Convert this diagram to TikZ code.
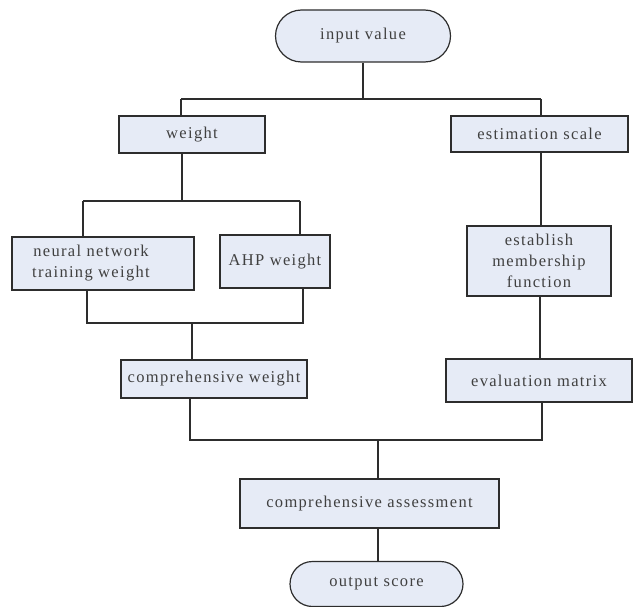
\documentclass[tikz,border=0pt]{standalone}
\usepackage{fontspec}
\setmainfont[LetterSpace=8]{Liberation Serif}
\usetikzlibrary{positioning,shapes,calc}
\definecolor{boxfill}{RGB}{230,235,246}
\definecolor{edge}{RGB}{45,45,45}

\begin{document}
\begin{tikzpicture}[x=1pt, y=-1pt, line width=1.2pt, draw=edge,
  every node/.style={draw=edge, fill=boxfill, align=center, inner sep=2pt,
    font=\fontsize{16.5}{21}\selectfont, text=black!75},
  box/.style={rectangle},
  pill/.style={rounded rectangle}]
\useasboundingbox (0,0) rectangle (640,607);
\node[pill, minimum width=179pt, minimum height=52pt] (in) at (363,36) {input value};
\node[box, minimum width=146pt, minimum height=37pt] (w) at (192,134.5) {weight};
\node[box, minimum width=177pt, minimum height=36pt] (es) at (539.5,134) {estimation scale};
\node[box, minimum width=182pt, minimum height=53pt] (nn) at (103,263.5) {\hspace*{-24pt}neural network\\\hspace*{-24pt}training weight};
\node[box, minimum width=110pt, minimum height=53pt] (ahp) at (275,261.5) {AHP weight};
\node[box, minimum width=144pt, minimum height=70pt] (em) at (539,261) {establish\\membership\\function};
\node[box, minimum width=186pt, minimum height=38pt] (cw) at (214,379) {comprehensive weight};
\node[box, minimum width=186pt, minimum height=43pt] (ev) at (539,380.5) {evaluation matrix};
\node[box, minimum width=259pt, minimum height=49pt] (ca) at (369.5,503.5) {comprehensive assessment};
\node[pill, minimum width=177pt, minimum height=45pt] (out) at (376.5,584) {output score};
% junctions
\coordinate (t1) at (363,99);
\coordinate (t1l) at (181,99);
\coordinate (t1r) at (541,99);
\coordinate (t2) at (182,201);
\coordinate (t2l) at (83,201);
\coordinate (t2r) at (300,201);
\coordinate (t3l) at (87,323);
\coordinate (t3r) at (303,323);
\coordinate (t3) at (192,323);
\coordinate (t4l) at (190,440);
\coordinate (t4r) at (542,440);
\coordinate (t4) at (378,440);
% top split
\draw (in) -- (t1);
\draw (t1l) -- (t1r);
\draw (t1l) -- (t1l |- w.north);
\draw (t1r) -- (t1r |- es.north);
% weight branch
\draw (w.south -| t2) -- (t2);
\draw (t2l) -- (t2r);
\draw (t2l) -- (t2l |- nn.north);
\draw (t2r) -- (t2r |- ahp.north);
\draw (nn.south -| t3l) -- (t3l) -- (t3r) -- (ahp.south -| t3r);
\draw (t3) -- (t3 |- cw.north);
% scale branch
\draw (es.south -| t1r) -- (em.north -| t1r);
\draw (em.south -| 540,0) -- (ev.north -| 540,0);
% merge
\draw (cw.south -| t4l) -- (t4l) -- (t4r) -- (ev.south -| t4r);
\draw (t4) -- (t4 |- ca.north);
\draw (ca.south -| t4) -- (out.north -| t4);
\end{tikzpicture}
\end{document}
